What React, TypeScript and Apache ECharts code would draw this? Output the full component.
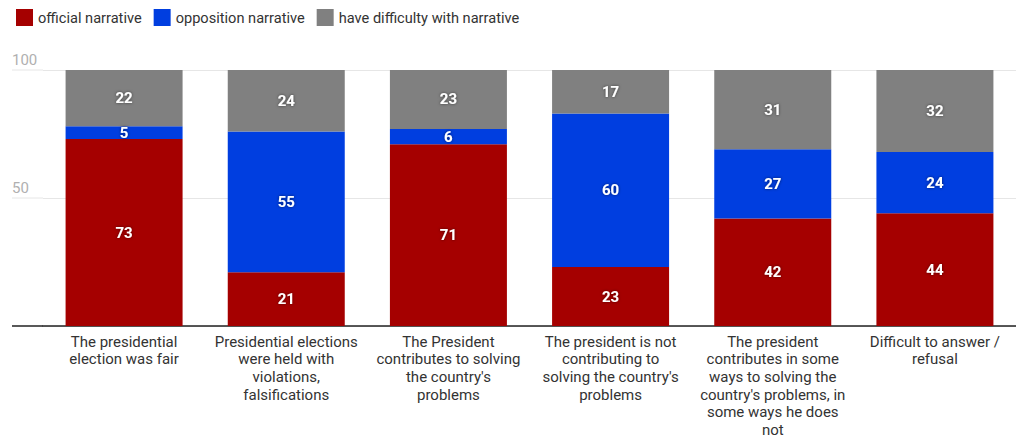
import React, { useEffect, useRef } from "react";
import * as echarts from "echarts";

const categories = [
  "The presidential\nelection was fair",
  "Presidential elections\nwere held with\nviolations,\nfalsifications",
  "The President\ncontributes to solving\nthe country's\nproblems",
  "The president is not\ncontributing to\nsolving the country's\nproblems",
  "The president\ncontributes in some\nways to solving the\ncountry's problems, in\nsome ways he does\nnot",
  "Difficult to answer /\nrefusal",
];
const official = [73, 21, 71, 23, 42, 44];
const opposition = [5, 55, 6, 60, 27, 24];
const difficulty = [22, 24, 23, 17, 31, 32];
const seriesNames = ["official narrative", "opposition narrative", "have difficulty with narrative"];
const colors = ["#a50000", "#003ee0", "#808080"];
const yTicks = [0, 50, 100];

const FONT = "Roboto, 'Noto Sans', sans-serif";

export default function App() {
  const ref = useRef<HTMLDivElement>(null);
  useEffect(() => {
    if (!ref.current) return;
    const chart = echarts.init(ref.current, null, { renderer: "svg" });
    const label = {
      show: true,
      position: "inside",
      color: "#fff",
      fontWeight: "bold",
      fontSize: 15,
      fontFamily: FONT,
      textShadowColor: "rgba(0,0,0,0.55)",
      textShadowBlur: 3,
    };
    const data = [official, opposition, difficulty];
    chart.setOption({
      animation: false,
      color: colors,
      textStyle: { fontFamily: FONT },
      legend: {
        left: 11,
        top: 4,
        itemWidth: 17,
        itemHeight: 17,
        itemGap: 12,
        icon: "rect",
        textStyle: { fontSize: 14.6, color: "#333", fontFamily: FONT },
        data: seriesNames,
      },
      grid: { left: 43, right: -1, top: 70, bottom: 113, containLabel: false },
      xAxis: {
        type: "category",
        data: categories,
        axisLine: { show: true, lineStyle: { color: "#222", width: 1.5 } },
        axisTick: { show: false },
        axisLabel: {
          interval: 0,
          margin: 7,
          color: "#333",
          fontSize: 15,
          lineHeight: 17.6,
          fontFamily: FONT,
        },
      },
      yAxis: {
        type: "value",
        min: yTicks[0],
        max: yTicks[yTicks.length - 1],
        interval: yTicks[1] - yTicks[0],
        axisLine: { show: false },
        axisTick: { show: false },
        splitLine: { lineStyle: { color: "#e6e6e6", width: 1 } },
        axisLabel: {
          showMinLabel: false,
          align: "left",
          verticalAlign: "bottom",
          padding: [0, 0, 3, 0],
          margin: 31,
          color: "#b0b0b0",
          fontSize: 15,
          fontFamily: FONT,
        },
      },
      series: seriesNames.map((name, i) => ({
        name,
        type: "bar",
        stack: "total",
        barWidth: 117,
        data: data[i],
        label,
        itemStyle: { color: colors[i] },
      })),
    });
    const y100 = chart.convertToPixel({ yAxisIndex: 0 }, 100) as number;
    const y50 = chart.convertToPixel({ yAxisIndex: 0 }, 50) as number;
    const y0 = chart.convertToPixel({ yAxisIndex: 0 }, 0) as number;
    chart.setOption({
      graphic: [
        { type: "line", shape: { x1: 12, y1: y100, x2: 43, y2: y100 }, style: { stroke: "#e6e6e6", lineWidth: 1 }, z: 0 },
        { type: "line", shape: { x1: 12, y1: y50, x2: 43, y2: y50 }, style: { stroke: "#e6e6e6", lineWidth: 1 }, z: 0 },
        { type: "line", shape: { x1: 12, y1: y0, x2: 43, y2: y0 }, style: { stroke: "#222", lineWidth: 1.5 }, z: 10 },
      ],
    });
    return () => chart.dispose();
  }, []);
  return <div ref={ref} style={{ position: "absolute", left: 0, top: 0, width: 1016, height: 439 }} />;
}
